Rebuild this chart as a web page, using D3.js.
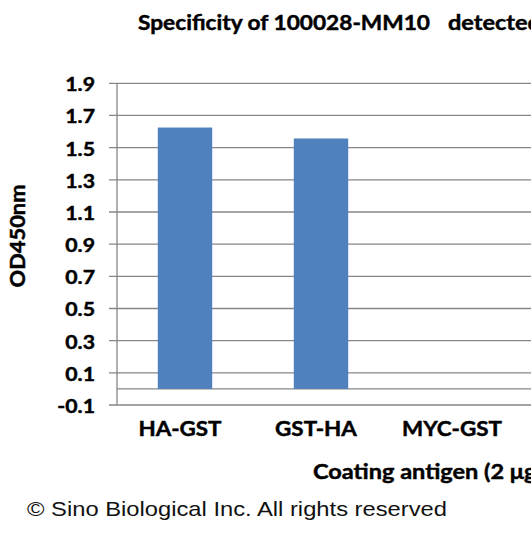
<!DOCTYPE html>
<html>
<head>
<meta charset="utf-8">
<script src="https://d3js.org/d3.v7.min.js"></script>
<style>
  body { margin: 0; background: #fff; }
  svg { display: block; }
</style>
</head>
<body>
<svg></svg>
<script>
    var width = 531;
    var height = 534;

    // chart data
    var categories = ["HA-GST", "GST-HA", "MYC-GST"];
    var od450 = [1.625, 1.557, 0];
    var yTicks = [-0.1, 0.1, 0.3, 0.5, 0.7, 0.9, 1.1, 1.3, 1.5, 1.7, 1.9];

    var titleText = "Specificity of 100028-MM10";
    var titleText2 = "detected";
    var xTitle = "Coating antigen (2 μg";
    var yTitle = "OD450nm";
    var copyright = "© Sino Biological Inc. All rights reserved";

    var plot = {left: 117, top: 83.3, bottom: 405, step: 136};
    var boldFont = "Lato, 'Open Sans', sans-serif";
    var stretch = 1.12;   // the source picture is a bit wider than normal text

    var data = categories.map((c, i) => ({cat: c, value: od450[i]}));

    var x = d3.scaleBand()
        .domain(categories)
        .range([plot.left, plot.left + plot.step * categories.length])
        .paddingInner(0.6)
        .paddingOuter(0.3);

    var y = d3.scaleLinear()
        .domain([-0.1, 1.9])
        .range([plot.bottom, plot.top]);

    var svg = d3.select("svg")
        .attr("width", width)
        .attr("height", height)
        .attr("viewBox", [0, 0, width, height]);

    // widen text by a factor, or to a fixed length
    function widen(sel, len) {
        sel.each(function() {
            var w = len || this.getComputedTextLength() * stretch;
            d3.select(this)
                .attr("textLength", w)
                .attr("lengthAdjust", "spacingAndGlyphs");
        });
    }

    function boldText(sel, size) {
        return sel.attr("font-family", boldFont)
            .attr("font-weight", "bold")
            .attr("font-size", size)
            .attr("fill", "#000")
            .attr("stroke", "#000")
            .attr("stroke-width", 0.45);
    }

    // gridlines with outside tick marks
    svg.append("g")
        .selectAll("line")
        .data(yTicks)
        .join("line")
        .attr("x1", plot.left - 8)
        .attr("x2", width)
        .attr("y1", d => y(d))
        .attr("y2", d => y(d))
        .attr("stroke", "#868686")
        .attr("stroke-width", 1.3);

    // zero line (category axis)
    svg.append("line")
        .attr("x1", plot.left)
        .attr("x2", width)
        .attr("y1", y(0))
        .attr("y2", y(0))
        .attr("stroke", "#868686")
        .attr("stroke-width", 1.3);

    // value axis line
    svg.append("line")
        .attr("x1", plot.left)
        .attr("x2", plot.left)
        .attr("y1", y(1.9))
        .attr("y2", y(-0.1))
        .attr("stroke", "#868686")
        .attr("stroke-width", 1.3);

    // y tick labels
    svg.append("g")
        .selectAll("text")
        .data(yTicks)
        .join("text")
        .attr("x", 95)
        .attr("y", d => y(d) + 8)
        .attr("text-anchor", "end")
        .call(boldText, 19)
        .text(d => d3.format(".1f")(d).replace("−", "-"))
        .call(widen);

    // bars
    svg.append("g")
        .selectAll("rect")
        .data(data)
        .join("rect")
        .attr("x", d => x(d.cat))
        .attr("width", x.bandwidth())
        .attr("y", d => y(Math.max(0, d.value)))
        .attr("height", d => Math.abs(y(d.value) - y(0)))
        .attr("fill", "#4F81BD");

    // category labels
    svg.append("g")
        .selectAll("text")
        .data(categories)
        .join("text")
        .attr("x", d => x(d) + x.bandwidth() / 2 - 5)
        .attr("y", 436)
        .attr("text-anchor", "middle")
        .call(boldText, 20)
        .text(d => d)
        .call(widen);

    // title (cropped at the right edge)
    svg.append("text")
        .attr("x", 138)
        .attr("y", 30)
        .call(boldText, 21)
        .text(titleText)
        .call(widen, 292);

    svg.append("text")
        .attr("x", 448)
        .attr("y", 30)
        .call(boldText, 21)
        .text(titleText2)
        .call(widen);

    // y axis title
    svg.append("text")
        .attr("transform", "translate(25,236) rotate(-90)")
        .attr("text-anchor", "middle")
        .call(boldText, 20)
        .text(yTitle)
        .call(widen, 103);

    // x axis title
    svg.append("text")
        .attr("x", 313)
        .attr("y", 479)
        .call(boldText, 21)
        .text(xTitle)
        .call(widen);

    // copyright
    svg.append("text")
        .attr("x", 27)
        .attr("y", 516)
        .attr("font-family", "'Liberation Sans', Arial, sans-serif")
        .attr("font-size", 21)
        .attr("fill", "#111")
        .text(copyright)
        .call(widen, 420);
</script>
</body>
</html>
